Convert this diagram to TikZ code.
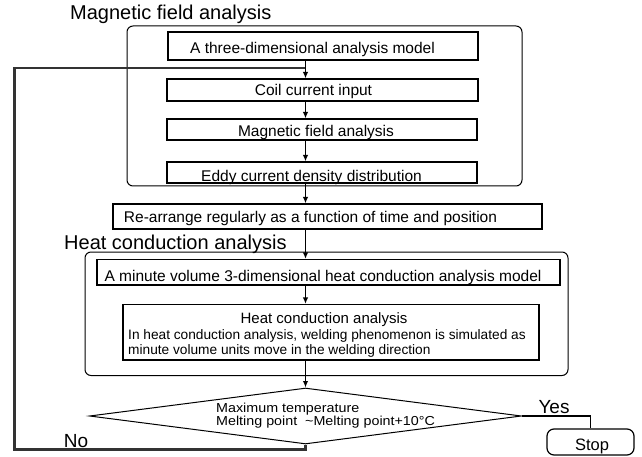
\documentclass[tikz,border=0pt]{standalone}
\usepackage{fontspec}
\setmainfont{Liberation Sans}
\newfontfamily\widesans[FakeStretch=1.1]{Liberation Sans}
\usetikzlibrary{arrows.meta,shapes.geometric}
\begin{document}
\begin{tikzpicture}[x=1pt,y=-1pt,
  box/.style={draw, line width=1.2pt, rectangle, inner sep=0pt},
  outerbox/.style={draw, line width=1pt, rectangle, rounded corners=6pt, inner sep=0pt},
  txt/.style={inner sep=0pt, font=\fontsize{15.5}{18}\selectfont},
  smalltxt/.style={inner sep=0pt, font=\fontsize{13.7}{16}\selectfont},
  diatxt/.style={inner sep=0pt, font=\widesans\fontsize{13}{15}\selectfont},
  ttl/.style={inner sep=0pt, font=\fontsize{20}{24}\selectfont},
  arr/.style={line width=1.6pt, -{Latex[length=6.5pt,width=5.5pt]}},
  loopline/.style={line width=2.2pt, black!80},
  yesline/.style={line width=1.6pt}
]
\useasboundingbox (0,0) rectangle (642,457);
\coordinate (ax) at (305.5,0);

% outer groups
\node[outerbox, minimum width=395, minimum height=160] (grp1) at (324.5,106) {};
\node[outerbox, minimum width=483, minimum height=123.5] (grp2) at (326.5,313.75) {};

% titles
\node[ttl, anchor=base west] (t1) at (70,20) {Magnetic field analysis};
\node[ttl, anchor=base west] (t2) at (64,249.5) {Heat conduction analysis};

% boxes
\node[box, minimum width=310, minimum height=28] (b1) at (323,46) {};
\node[box, minimum width=311, minimum height=22] (b2) at (322.5,90) {};
\node[box, minimum width=310, minimum height=21] (b3) at (322,129.5) {};
\node[box, minimum width=310, minimum height=21] (b4) at (322,172.5) {};
\node[box, fill=white, minimum width=429, minimum height=25] (b5) at (327.5,216.5) {};
\node[box, minimum width=463, minimum height=25.5] (b6) at (328.5,272.25) {};
\node[box, minimum width=416, minimum height=55.5] (b7) at (331,332.25) {};
\node[draw, line width=1pt, diamond, minimum width=432, minimum height=56, inner sep=0pt] (dia) at (305.5,416) {};
\node[draw, line width=1.2pt, rectangle, rounded corners=7pt, minimum width=87, minimum height=26, inner sep=0pt] (stop) at (590.5,442) {};

% texts
\node[txt, anchor=base] (b1t) at (312.5,53.3) {A three-dimensional analysis model};
\node[txt, anchor=base] (b2t) at (313.5,96) {Coil current input};
\node[txt, anchor=base] (b3t) at (316,137) {Magnetic field analysis};
\node[txt, anchor=base] (b4t) at (311.5,181.5) {Eddy current density distribution};
\node[txt, anchor=base] (b5t) at (310.5,222.7) {Re-arrange regularly as a function of time and position};
\node[txt, anchor=base] (b6t) at (323,281) {A minute volume 3-dimensional heat conduction analysis model};
\node[txt, anchor=base, font=\fontsize{15}{18}\selectfont] (b7t1) at (324,323.7) {Heat conduction analysis};
\node[smalltxt, anchor=base west] (b7t2) at (128,339.7) {In heat conduction analysis, welding phenomenon is simulated as};
\node[smalltxt, anchor=base west] (b7t3) at (128,354.7) {minute volume units move in the welding direction};
\node[diatxt, anchor=base west] (d1) at (216,412) {Maximum temperature};
\node[diatxt, anchor=base west] (d2) at (216,425) {Melting point\ \ \textasciitilde Melting point+10°C};
\node[inner sep=0pt, anchor=base, font=\fontsize{19}{22}\selectfont] (yes) at (554,413) {Yes};
\node[inner sep=0pt, anchor=base, font=\fontsize{19}{22}\selectfont] (no) at (76,447) {No};
\node[inner sep=0pt, anchor=base, font=\fontsize{16.5}{20}\selectfont] (stopt) at (592,450.3) {Stop};

% loop back (No)
\coordinate (lb) at (14.5,449.5);
\coordinate (lt) at (14.5,68);
\coordinate (join) at (305.5,68);
\draw[loopline] (dia.south) -- (dia.south |- lb) -- (lb) -- (lt) -- (join);

% arrows
\draw[arr] (b1.south -| ax) -- (b2.north -| ax);
\draw[arr] (b2.south -| ax) -- (b3.north -| ax);
\draw[arr] (b3.south -| ax) -- (b4.north -| ax);
\draw[arr] (b4.south -| ax) -- (b5.north -| ax);
\draw[arr] (b5.south -| ax) -- (b6.north -| ax);
\draw[arr] (b6.south -| ax) -- (b7.north -| ax);
\draw[arr] (b7.south -| ax) -- (dia.north);

% yes
\coordinate (yc) at (590.5,415);
\draw[yesline] (dia.east) -- (dia.east -| yc) -- (stop.north);
\end{tikzpicture}
\end{document}
